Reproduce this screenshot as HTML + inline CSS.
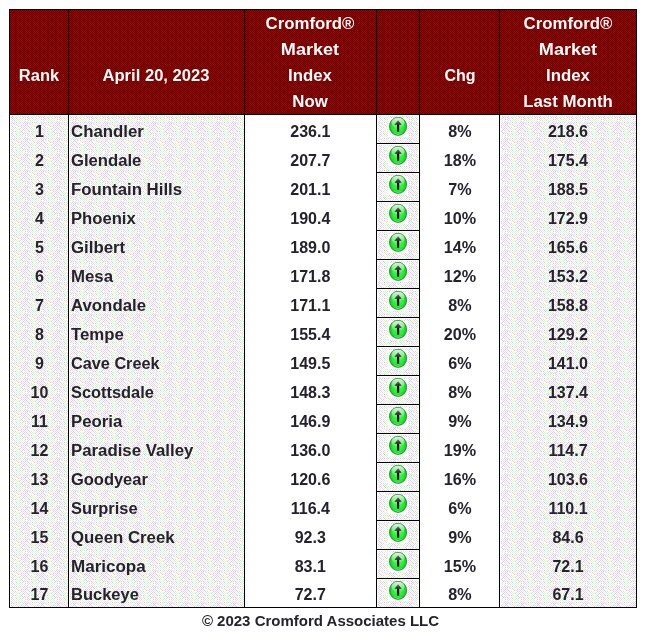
<!DOCTYPE html><html><head><meta charset="utf-8"><title>Cromford Market Index</title><style>
html,body{margin:0;padding:0;background:#fff;}
body{width:646px;height:637px;position:relative;overflow:hidden;font-family:"Liberation Sans",sans-serif;font-weight:bold;font-size:16px;color:#25222c;}
.a{position:absolute;}
#bg{position:absolute;left:0;top:0;width:646px;height:637px;}
.t{position:absolute;white-space:nowrap;line-height:20px;height:20px;}
.w{color:#fff;}
.f{font-size:15px;}
</style></head><body>
<svg id="bg" width="646" height="637" viewBox="0 0 646 637" shape-rendering="crispEdges">
<defs>
<pattern id="ph" x="0" y="0" width="2" height="2" patternUnits="userSpaceOnUse"><rect width="2" height="2" fill="#990000"/><rect x="0" y="0" width="1" height="1" fill="#660000"/><rect x="1" y="1" width="1" height="1" fill="#660000"/></pattern>
<pattern id="pd" x="0" y="0" width="16" height="16" patternUnits="userSpaceOnUse"><rect width="16" height="16" fill="#fff"/><rect x="0" y="0" width="1" height="1" fill="#ccffcc"/><rect x="2" y="0" width="1" height="1" fill="#ccffcc"/><rect x="4" y="0" width="1" height="1" fill="#ccffcc"/><rect x="6" y="0" width="1" height="1" fill="#ccffcc"/><rect x="8" y="0" width="1" height="1" fill="#ffcccc"/><rect x="10" y="0" width="1" height="1" fill="#ccccff"/><rect x="12" y="0" width="1" height="1" fill="#ccffcc"/><rect x="14" y="0" width="1" height="1" fill="#ffccff"/><rect x="1" y="1" width="1" height="1" fill="#ccffcc"/><rect x="3" y="1" width="1" height="1" fill="#ffccff"/><rect x="5" y="1" width="1" height="1" fill="#ccffff"/><rect x="7" y="1" width="1" height="1" fill="#ccccff"/><rect x="9" y="1" width="1" height="1" fill="#ffccff"/><rect x="11" y="1" width="1" height="1" fill="#ffcccc"/><rect x="13" y="1" width="1" height="1" fill="#ffcccc"/><rect x="15" y="1" width="1" height="1" fill="#ccffcc"/><rect x="0" y="2" width="1" height="1" fill="#ccffcc"/><rect x="2" y="2" width="1" height="1" fill="#ffffcc"/><rect x="4" y="2" width="1" height="1" fill="#ccffff"/><rect x="6" y="2" width="1" height="1" fill="#ffcccc"/><rect x="8" y="2" width="1" height="1" fill="#ffccff"/><rect x="10" y="2" width="1" height="1" fill="#ffccff"/><rect x="12" y="2" width="1" height="1" fill="#ccccff"/><rect x="14" y="2" width="1" height="1" fill="#ffffcc"/><rect x="1" y="3" width="1" height="1" fill="#ccffcc"/><rect x="3" y="3" width="1" height="1" fill="#ffccff"/><rect x="5" y="3" width="1" height="1" fill="#ccccff"/><rect x="7" y="3" width="1" height="1" fill="#ffffcc"/><rect x="9" y="3" width="1" height="1" fill="#ccffcc"/><rect x="11" y="3" width="1" height="1" fill="#ccffff"/><rect x="13" y="3" width="1" height="1" fill="#ccccff"/><rect x="15" y="3" width="1" height="1" fill="#ccccff"/><rect x="0" y="4" width="1" height="1" fill="#ccffcc"/><rect x="2" y="4" width="1" height="1" fill="#ccffcc"/><rect x="4" y="4" width="1" height="1" fill="#ffccff"/><rect x="6" y="4" width="1" height="1" fill="#cccccc"/><rect x="8" y="4" width="1" height="1" fill="#ffccff"/><rect x="10" y="4" width="1" height="1" fill="#ffccff"/><rect x="12" y="4" width="1" height="1" fill="#ffcccc"/><rect x="14" y="4" width="1" height="1" fill="#ffffcc"/><rect x="1" y="5" width="1" height="1" fill="#ccffcc"/><rect x="3" y="5" width="1" height="1" fill="#ccffcc"/><rect x="5" y="5" width="1" height="1" fill="#ffffcc"/><rect x="7" y="5" width="1" height="1" fill="#cccccc"/><rect x="9" y="5" width="1" height="1" fill="#ccccff"/><rect x="11" y="5" width="1" height="1" fill="#ccccff"/><rect x="13" y="5" width="1" height="1" fill="#ccffcc"/><rect x="15" y="5" width="1" height="1" fill="#ffccff"/><rect x="0" y="6" width="1" height="1" fill="#cccccc"/><rect x="2" y="6" width="1" height="1" fill="#ccffcc"/><rect x="4" y="6" width="1" height="1" fill="#ffcccc"/><rect x="6" y="6" width="1" height="1" fill="#ffcccc"/><rect x="8" y="6" width="1" height="1" fill="#ccffff"/><rect x="10" y="6" width="1" height="1" fill="#ffffcc"/><rect x="12" y="6" width="1" height="1" fill="#ccccff"/><rect x="14" y="6" width="1" height="1" fill="#ccffff"/><rect x="1" y="7" width="1" height="1" fill="#ffccff"/><rect x="3" y="7" width="1" height="1" fill="#ccffcc"/><rect x="5" y="7" width="1" height="1" fill="#ccffcc"/><rect x="7" y="7" width="1" height="1" fill="#ccffff"/><rect x="9" y="7" width="1" height="1" fill="#ccccff"/><rect x="11" y="7" width="1" height="1" fill="#ffcccc"/><rect x="13" y="7" width="1" height="1" fill="#ffcccc"/><rect x="15" y="7" width="1" height="1" fill="#ccffff"/><rect x="0" y="8" width="1" height="1" fill="#ccffcc"/><rect x="2" y="8" width="1" height="1" fill="#ccffcc"/><rect x="4" y="8" width="1" height="1" fill="#ccffff"/><rect x="6" y="8" width="1" height="1" fill="#ccffcc"/><rect x="8" y="8" width="1" height="1" fill="#ccffcc"/><rect x="10" y="8" width="1" height="1" fill="#ffffcc"/><rect x="12" y="8" width="1" height="1" fill="#ffccff"/><rect x="14" y="8" width="1" height="1" fill="#ffccff"/><rect x="1" y="9" width="1" height="1" fill="#ffffcc"/><rect x="3" y="9" width="1" height="1" fill="#ccffcc"/><rect x="5" y="9" width="1" height="1" fill="#ccffcc"/><rect x="7" y="9" width="1" height="1" fill="#ffffcc"/><rect x="9" y="9" width="1" height="1" fill="#ffccff"/><rect x="11" y="9" width="1" height="1" fill="#ffcccc"/><rect x="13" y="9" width="1" height="1" fill="#ffffcc"/><rect x="15" y="9" width="1" height="1" fill="#ccffcc"/><rect x="0" y="10" width="1" height="1" fill="#cccccc"/><rect x="2" y="10" width="1" height="1" fill="#ffccff"/><rect x="4" y="10" width="1" height="1" fill="#ccccff"/><rect x="6" y="10" width="1" height="1" fill="#ccffcc"/><rect x="8" y="10" width="1" height="1" fill="#ffcccc"/><rect x="10" y="10" width="1" height="1" fill="#ffccff"/><rect x="12" y="10" width="1" height="1" fill="#ffccff"/><rect x="14" y="10" width="1" height="1" fill="#ffccff"/><rect x="1" y="11" width="1" height="1" fill="#ffffcc"/><rect x="3" y="11" width="1" height="1" fill="#ffccff"/><rect x="5" y="11" width="1" height="1" fill="#ccffff"/><rect x="7" y="11" width="1" height="1" fill="#ffccff"/><rect x="9" y="11" width="1" height="1" fill="#ccccff"/><rect x="11" y="11" width="1" height="1" fill="#cccccc"/><rect x="13" y="11" width="1" height="1" fill="#ccccff"/><rect x="15" y="11" width="1" height="1" fill="#ccffff"/><rect x="0" y="12" width="1" height="1" fill="#ffcccc"/><rect x="2" y="12" width="1" height="1" fill="#ccffcc"/><rect x="4" y="12" width="1" height="1" fill="#ccffff"/><rect x="6" y="12" width="1" height="1" fill="#ffccff"/><rect x="8" y="12" width="1" height="1" fill="#ccffff"/><rect x="10" y="12" width="1" height="1" fill="#ccccff"/><rect x="12" y="12" width="1" height="1" fill="#ffffcc"/><rect x="14" y="12" width="1" height="1" fill="#ffccff"/><rect x="1" y="13" width="1" height="1" fill="#ffccff"/><rect x="3" y="13" width="1" height="1" fill="#ccffcc"/><rect x="5" y="13" width="1" height="1" fill="#cccccc"/><rect x="7" y="13" width="1" height="1" fill="#ffccff"/><rect x="9" y="13" width="1" height="1" fill="#cccccc"/><rect x="11" y="13" width="1" height="1" fill="#ccccff"/><rect x="13" y="13" width="1" height="1" fill="#ccffff"/><rect x="15" y="13" width="1" height="1" fill="#ccffff"/><rect x="0" y="14" width="1" height="1" fill="#ffffcc"/><rect x="2" y="14" width="1" height="1" fill="#ffcccc"/><rect x="4" y="14" width="1" height="1" fill="#ffcccc"/><rect x="6" y="14" width="1" height="1" fill="#ffccff"/><rect x="8" y="14" width="1" height="1" fill="#ffccff"/><rect x="10" y="14" width="1" height="1" fill="#ccffff"/><rect x="12" y="14" width="1" height="1" fill="#cccccc"/><rect x="14" y="14" width="1" height="1" fill="#ffffcc"/><rect x="1" y="15" width="1" height="1" fill="#ffffcc"/><rect x="3" y="15" width="1" height="1" fill="#ffffcc"/><rect x="5" y="15" width="1" height="1" fill="#ccccff"/><rect x="7" y="15" width="1" height="1" fill="#ffcccc"/><rect x="9" y="15" width="1" height="1" fill="#ffcccc"/><rect x="11" y="15" width="1" height="1" fill="#ccffff"/><rect x="13" y="15" width="1" height="1" fill="#ffcccc"/><rect x="15" y="15" width="1" height="1" fill="#ffcccc"/></pattern>
<radialGradient id="gg" cx="50%" cy="52%" r="52%"><stop offset="0" stop-color="#4dff55"/><stop offset="0.6" stop-color="#22ee33"/><stop offset="0.85" stop-color="#14d024"/><stop offset="0.95" stop-color="#2a9a30"/><stop offset="1" stop-color="#4f8a52"/></radialGradient>
<linearGradient id="gh" x1="0" y1="0" x2="0" y2="1"><stop offset="0" stop-color="#fff" stop-opacity="0.85"/><stop offset="1" stop-color="#fff" stop-opacity="0.1"/></linearGradient>
<linearGradient id="ga" x1="0" y1="0" x2="0" y2="1"><stop offset="0" stop-color="#7a6a7a"/><stop offset="1" stop-color="#2a1a2a"/></linearGradient>
<g id="ic" shape-rendering="auto"><rect x="-10" y="-8" width="20" height="19" fill="#fff"/><ellipse cx="0.05" cy="0.35" rx="8.9" ry="9.45" fill="url(#gg)"/><ellipse cx="0.05" cy="0.35" rx="8.4" ry="8.95" fill="none" stroke="#2f8f35" stroke-opacity="0.75" stroke-width="1"/><ellipse cx="0" cy="-3.2" rx="6.6" ry="5" fill="url(#gh)"/><path d="M-5 6.4 A7.4 7.8 0 0 0 5 6.4 A9.4 9.8 0 0 1 -5 6.4Z" fill="#e0ffe0" fill-opacity="0.8"/><path d="M0.1 -5.8 L3.7 -1.2 H-3.5 Z" fill="url(#ga)"/><rect x="-1.05" y="-1.4" width="2.2" height="7.1" fill="#000"/></g>
</defs>
<rect x="10" y="10" width="626" height="104" fill="url(#ph)"/>
<rect x="378" y="116" width="40" height="27" fill="url(#pd)"/>
<rect x="378" y="145" width="40" height="27" fill="url(#pd)"/>
<rect x="378" y="174" width="40" height="27" fill="url(#pd)"/>
<rect x="378" y="203" width="40" height="27" fill="url(#pd)"/>
<rect x="378" y="232" width="40" height="27" fill="url(#pd)"/>
<rect x="378" y="261" width="40" height="27" fill="url(#pd)"/>
<rect x="378" y="290" width="40" height="27" fill="url(#pd)"/>
<rect x="378" y="319" width="40" height="27" fill="url(#pd)"/>
<rect x="378" y="348" width="40" height="27" fill="url(#pd)"/>
<rect x="378" y="377" width="40" height="27" fill="url(#pd)"/>
<rect x="378" y="406" width="40" height="27" fill="url(#pd)"/>
<rect x="378" y="435" width="40" height="27" fill="url(#pd)"/>
<rect x="378" y="464" width="40" height="27" fill="url(#pd)"/>
<rect x="378" y="493" width="40" height="27" fill="url(#pd)"/>
<rect x="378" y="522" width="40" height="27" fill="url(#pd)"/>
<rect x="378" y="551" width="40" height="27" fill="url(#pd)"/>
<rect x="378" y="580" width="40" height="27" fill="url(#pd)"/>
<rect x="10" y="115" width="58" height="492" fill="#fff"/><rect x="11" y="116" width="57" height="491" fill="url(#pd)"/>
<rect x="69" y="115" width="175" height="492" fill="#fff"/><rect x="70" y="116" width="174" height="491" fill="url(#pd)"/>
<rect x="500" y="115" width="136" height="492" fill="#fff"/><rect x="501" y="116" width="135" height="491" fill="url(#pd)"/>
<rect x="9" y="9" width="1" height="599" fill="#000"/>
<rect x="68" y="9" width="1" height="599" fill="#000"/>
<rect x="244" y="9" width="1" height="599" fill="#000"/>
<rect x="376" y="9" width="1" height="599" fill="#000"/>
<rect x="419" y="9" width="1" height="599" fill="#000"/>
<rect x="499" y="9" width="1" height="599" fill="#000"/>
<rect x="636" y="9" width="1" height="599" fill="#000"/>
<rect x="9" y="9" width="628" height="1" fill="#000"/>
<rect x="9" y="114" width="628" height="1" fill="#000"/>
<rect x="9" y="607" width="628" height="1" fill="#000"/>
<rect x="376" y="143" width="44" height="1" fill="#000"/>
<rect x="376" y="172" width="44" height="1" fill="#000"/>
<rect x="376" y="201" width="44" height="1" fill="#000"/>
<rect x="376" y="230" width="44" height="1" fill="#000"/>
<rect x="376" y="259" width="44" height="1" fill="#000"/>
<rect x="376" y="288" width="44" height="1" fill="#000"/>
<rect x="376" y="317" width="44" height="1" fill="#000"/>
<rect x="376" y="346" width="44" height="1" fill="#000"/>
<rect x="376" y="375" width="44" height="1" fill="#000"/>
<rect x="376" y="404" width="44" height="1" fill="#000"/>
<rect x="376" y="433" width="44" height="1" fill="#000"/>
<rect x="376" y="462" width="44" height="1" fill="#000"/>
<rect x="376" y="491" width="44" height="1" fill="#000"/>
<rect x="376" y="520" width="44" height="1" fill="#000"/>
<rect x="376" y="549" width="44" height="1" fill="#000"/>
<rect x="376" y="578" width="44" height="1" fill="#000"/>
<use href="#ic" x="398" y="126"/>
<use href="#ic" x="398" y="155"/>
<use href="#ic" x="398" y="184"/>
<use href="#ic" x="398" y="213"/>
<use href="#ic" x="398" y="242"/>
<use href="#ic" x="398" y="271"/>
<use href="#ic" x="398" y="300"/>
<use href="#ic" x="398" y="329"/>
<use href="#ic" x="398" y="358"/>
<use href="#ic" x="398" y="387"/>
<use href="#ic" x="398" y="416"/>
<use href="#ic" x="398" y="445"/>
<use href="#ic" x="398" y="474"/>
<use href="#ic" x="398" y="503"/>
<use href="#ic" x="398" y="532"/>
<use href="#ic" x="398" y="561"/>
<use href="#ic" x="398" y="590"/>
</svg>
<div class="t w" style="top:66px;left:-81.2px;width:240px;text-align:center;transform:scaleX(1.03);">Rank</div>
<div class="t w" style="top:66px;left:36.3px;width:240px;text-align:center;transform:scaleX(1.037);">April 20, 2023</div>
<div class="t w" style="top:14px;left:190.3px;width:240px;text-align:center;transform:scaleX(1.05);">Cromford®</div>
<div class="t w" style="top:40px;left:190.3px;width:240px;text-align:center;transform:scaleX(1.13);">Market</div>
<div class="t w" style="top:66px;left:190.3px;width:240px;text-align:center;transform:scaleX(1.05);">Index</div>
<div class="t w" style="top:92px;left:190.3px;width:240px;text-align:center;transform:scaleX(1.05);">Now</div>
<div class="t w" style="top:66px;left:340.0px;width:240px;text-align:center;">Chg</div>
<div class="t w" style="top:14px;left:448.0px;width:240px;text-align:center;transform:scaleX(1.05);">Cromford®</div>
<div class="t w" style="top:40px;left:448.0px;width:240px;text-align:center;transform:scaleX(1.13);">Market</div>
<div class="t w" style="top:66px;left:448.0px;width:240px;text-align:center;transform:scaleX(1.05);">Index</div>
<div class="t w" style="top:92px;left:448.0px;width:240px;text-align:center;transform:scaleX(1.05);">Last Month</div>
<div class="t " style="top:122px;left:-80.5px;width:240px;text-align:center;">1</div>
<div class="t " style="top:122px;left:71px;transform:scaleX(1.05);transform-origin:0 0;">Chandler</div>
<div class="t " style="top:122px;left:190.3px;width:240px;text-align:center;">236.1</div>
<div class="t " style="top:122px;left:339.8px;width:240px;text-align:center;transform:scaleX(1.01);">8%</div>
<div class="t " style="top:122px;left:448.0px;width:240px;text-align:center;">218.6</div>
<div class="t " style="top:151px;left:-80.5px;width:240px;text-align:center;">2</div>
<div class="t " style="top:151px;left:71px;transform:scaleX(1.041);transform-origin:0 0;">Glendale</div>
<div class="t " style="top:151px;left:190.3px;width:240px;text-align:center;">207.7</div>
<div class="t " style="top:151px;left:339.8px;width:240px;text-align:center;transform:scaleX(1.01);">18%</div>
<div class="t " style="top:151px;left:448.0px;width:240px;text-align:center;">175.4</div>
<div class="t " style="top:180px;left:-80.5px;width:240px;text-align:center;">3</div>
<div class="t " style="top:180px;left:71px;transform:scaleX(1.05);transform-origin:0 0;">Fountain Hills</div>
<div class="t " style="top:180px;left:190.3px;width:240px;text-align:center;">201.1</div>
<div class="t " style="top:180px;left:339.8px;width:240px;text-align:center;transform:scaleX(1.01);">7%</div>
<div class="t " style="top:180px;left:448.0px;width:240px;text-align:center;">188.5</div>
<div class="t " style="top:209px;left:-80.5px;width:240px;text-align:center;">4</div>
<div class="t " style="top:209px;left:71px;transform:scaleX(1.04);transform-origin:0 0;">Phoenix</div>
<div class="t " style="top:209px;left:190.3px;width:240px;text-align:center;">190.4</div>
<div class="t " style="top:209px;left:339.8px;width:240px;text-align:center;transform:scaleX(1.01);">10%</div>
<div class="t " style="top:209px;left:448.0px;width:240px;text-align:center;">172.9</div>
<div class="t " style="top:238px;left:-80.5px;width:240px;text-align:center;">5</div>
<div class="t " style="top:238px;left:71px;transform:scaleX(1.05);transform-origin:0 0;">Gilbert</div>
<div class="t " style="top:238px;left:190.3px;width:240px;text-align:center;">189.0</div>
<div class="t " style="top:238px;left:339.8px;width:240px;text-align:center;transform:scaleX(1.01);">14%</div>
<div class="t " style="top:238px;left:448.0px;width:240px;text-align:center;">165.6</div>
<div class="t " style="top:267px;left:-80.5px;width:240px;text-align:center;">6</div>
<div class="t " style="top:267px;left:71px;transform:scaleX(1.05);transform-origin:0 0;">Mesa</div>
<div class="t " style="top:267px;left:190.3px;width:240px;text-align:center;">171.8</div>
<div class="t " style="top:267px;left:339.8px;width:240px;text-align:center;transform:scaleX(1.01);">12%</div>
<div class="t " style="top:267px;left:448.0px;width:240px;text-align:center;">153.2</div>
<div class="t " style="top:296px;left:-80.5px;width:240px;text-align:center;">7</div>
<div class="t " style="top:296px;left:71px;transform:scaleX(1.05);transform-origin:0 0;">Avondale</div>
<div class="t " style="top:296px;left:190.3px;width:240px;text-align:center;">171.1</div>
<div class="t " style="top:296px;left:339.8px;width:240px;text-align:center;transform:scaleX(1.01);">8%</div>
<div class="t " style="top:296px;left:448.0px;width:240px;text-align:center;">158.8</div>
<div class="t " style="top:325px;left:-80.5px;width:240px;text-align:center;">8</div>
<div class="t " style="top:325px;left:71px;transform:scaleX(1.05);transform-origin:0 0;">Tempe</div>
<div class="t " style="top:325px;left:190.3px;width:240px;text-align:center;">155.4</div>
<div class="t " style="top:325px;left:339.8px;width:240px;text-align:center;transform:scaleX(1.01);">20%</div>
<div class="t " style="top:325px;left:448.0px;width:240px;text-align:center;">129.2</div>
<div class="t " style="top:354px;left:-80.5px;width:240px;text-align:center;">9</div>
<div class="t " style="top:354px;left:71px;transform:scaleX(1.016);transform-origin:0 0;">Cave Creek</div>
<div class="t " style="top:354px;left:190.3px;width:240px;text-align:center;">149.5</div>
<div class="t " style="top:354px;left:339.8px;width:240px;text-align:center;transform:scaleX(1.01);">6%</div>
<div class="t " style="top:354px;left:448.0px;width:240px;text-align:center;">141.0</div>
<div class="t " style="top:383px;left:-80.5px;width:240px;text-align:center;">10</div>
<div class="t " style="top:383px;left:71px;transform:scaleX(1.024);transform-origin:0 0;">Scottsdale</div>
<div class="t " style="top:383px;left:190.3px;width:240px;text-align:center;">148.3</div>
<div class="t " style="top:383px;left:339.8px;width:240px;text-align:center;transform:scaleX(1.01);">8%</div>
<div class="t " style="top:383px;left:448.0px;width:240px;text-align:center;">137.4</div>
<div class="t " style="top:412px;left:-80.5px;width:240px;text-align:center;">11</div>
<div class="t " style="top:412px;left:71px;transform:scaleX(1.05);transform-origin:0 0;">Peoria</div>
<div class="t " style="top:412px;left:190.3px;width:240px;text-align:center;">146.9</div>
<div class="t " style="top:412px;left:339.8px;width:240px;text-align:center;transform:scaleX(1.01);">9%</div>
<div class="t " style="top:412px;left:448.0px;width:240px;text-align:center;">134.9</div>
<div class="t " style="top:441px;left:-80.5px;width:240px;text-align:center;">12</div>
<div class="t " style="top:441px;left:71px;transform:scaleX(1.05);transform-origin:0 0;">Paradise Valley</div>
<div class="t " style="top:441px;left:190.3px;width:240px;text-align:center;">136.0</div>
<div class="t " style="top:441px;left:339.8px;width:240px;text-align:center;transform:scaleX(1.01);">19%</div>
<div class="t " style="top:441px;left:448.0px;width:240px;text-align:center;">114.7</div>
<div class="t " style="top:470px;left:-80.5px;width:240px;text-align:center;">13</div>
<div class="t " style="top:470px;left:71px;transform:scaleX(1.028);transform-origin:0 0;">Goodyear</div>
<div class="t " style="top:470px;left:190.3px;width:240px;text-align:center;">120.6</div>
<div class="t " style="top:470px;left:339.8px;width:240px;text-align:center;transform:scaleX(1.01);">16%</div>
<div class="t " style="top:470px;left:448.0px;width:240px;text-align:center;">103.6</div>
<div class="t " style="top:499px;left:-80.5px;width:240px;text-align:center;">14</div>
<div class="t " style="top:499px;left:71px;transform:scaleX(1.025);transform-origin:0 0;">Surprise</div>
<div class="t " style="top:499px;left:190.3px;width:240px;text-align:center;">116.4</div>
<div class="t " style="top:499px;left:339.8px;width:240px;text-align:center;transform:scaleX(1.01);">6%</div>
<div class="t " style="top:499px;left:448.0px;width:240px;text-align:center;">110.1</div>
<div class="t " style="top:528px;left:-80.5px;width:240px;text-align:center;">15</div>
<div class="t " style="top:528px;left:71px;transform:scaleX(1.05);transform-origin:0 0;">Queen Creek</div>
<div class="t " style="top:528px;left:190.3px;width:240px;text-align:center;">92.3</div>
<div class="t " style="top:528px;left:339.8px;width:240px;text-align:center;transform:scaleX(1.01);">9%</div>
<div class="t " style="top:528px;left:448.0px;width:240px;text-align:center;">84.6</div>
<div class="t " style="top:557px;left:-80.5px;width:240px;text-align:center;">16</div>
<div class="t " style="top:557px;left:71px;transform:scaleX(1.064);transform-origin:0 0;">Maricopa</div>
<div class="t " style="top:557px;left:190.3px;width:240px;text-align:center;">83.1</div>
<div class="t " style="top:557px;left:339.8px;width:240px;text-align:center;transform:scaleX(1.01);">15%</div>
<div class="t " style="top:557px;left:448.0px;width:240px;text-align:center;">72.1</div>
<div class="t " style="top:585px;left:-80.5px;width:240px;text-align:center;">17</div>
<div class="t " style="top:585px;left:71px;transform:scaleX(1.03);transform-origin:0 0;">Buckeye</div>
<div class="t " style="top:585px;left:190.3px;width:240px;text-align:center;">72.7</div>
<div class="t " style="top:585px;left:339.8px;width:240px;text-align:center;transform:scaleX(1.01);">8%</div>
<div class="t " style="top:585px;left:448.0px;width:240px;text-align:center;">67.1</div>
<div class="t f" style="top:611px;left:120.5px;width:400px;text-align:center;">© 2023 Cromford Associates LLC</div>
</body></html>
